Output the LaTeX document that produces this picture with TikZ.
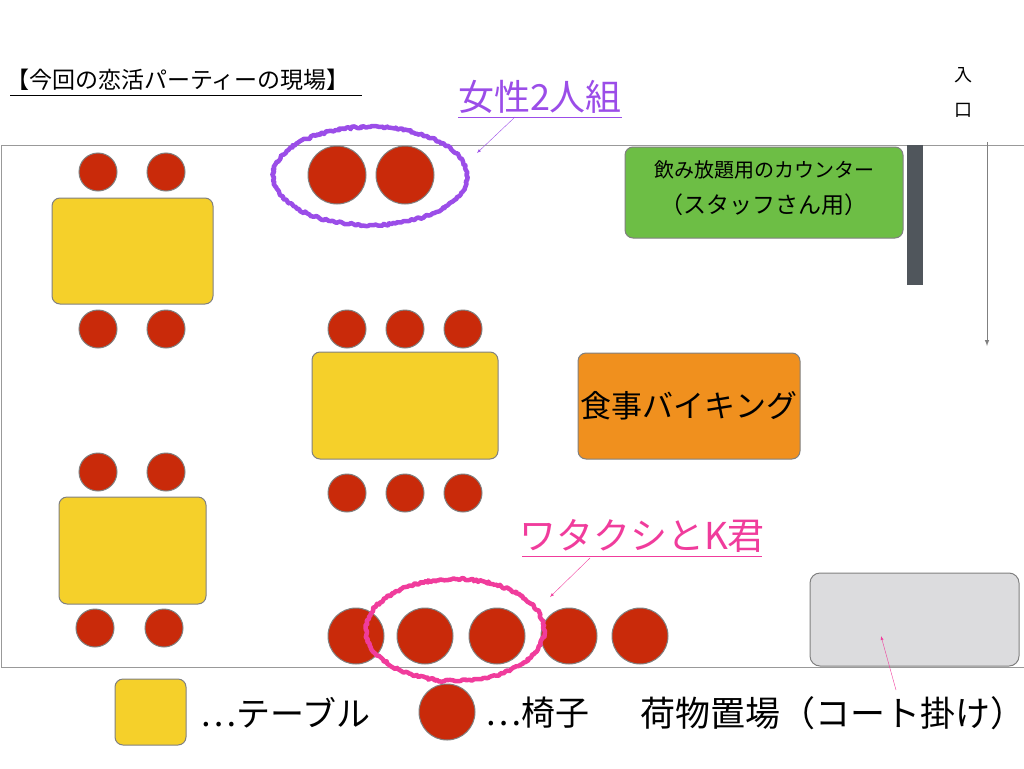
\documentclass[tikz,border=0pt]{standalone}
\usepackage{fontspec}
\setmainfont{Noto Sans CJK JP}
\usetikzlibrary{decorations.pathmorphing}
\definecolor{tableyel}{HTML}{F5D02A}
\definecolor{chairred}{HTML}{C92A0A}
\definecolor{bargray}{HTML}{50565C}
\definecolor{countergreen}{HTML}{6DBE45}
\definecolor{foodorange}{HTML}{F0901E}
\definecolor{storegray}{HTML}{DCDCDE}
\definecolor{markpurple}{HTML}{9B4DE8}
\definecolor{markpink}{HTML}{F03C9C}
\tikzset{%
    tablebox/.style={draw=gray, fill=tableyel, rounded corners=8pt, line width=1pt},
    chair/.style={draw=gray, fill=chairred, circle, line width=1pt},
    scribble/.style={
		decorate,
		decoration={random steps, segment length=2pt, amplitude=1.2pt},
		line width=4.5pt, line join=round, line cap=round
	}
}
\tikzset{wall/.style={draw=gray!80, line width=1pt}}

\begin{document}
\begin{tikzpicture}[x=1pt,y=-1pt]
		% Default action for each node
		\useasboundingbox (0,0) rectangle (1024,768);

		\node[anchor=west, inner sep=0pt, font=\fontsize{23}{25}\selectfont] (title) at (6,80) {【今回の恋活パーティーの現場】};
		\draw (10,95) -- (362,95);

		% walls
		\coordinate (wnw) at (1,145);	\coordinate (wne) at (1024,145);
		\coordinate (wsw) at (1,667);	\coordinate (wse) at (1024,667);
		\draw[wall] (wne) -- (wnw) -- (wsw) -- (wse);

		% entrance
		\node[font=\fontsize{18}{20}\selectfont] (in1) at (963,75) {入};
		\node[font=\fontsize{18}{20}\selectfont] (in2) at (963,110) {口};
		\coordinate (entA) at (987,142);	\coordinate (entB) at (987,346);
		\draw[gray, line width=1pt, ->, >=latex] (entA) -- (entB);
		\fill[bargray] (907,145) rectangle (923,285);

		% counters
		\draw[gray, fill=countergreen, rounded corners=8pt, line width=1pt] (625,147) rectangle (903,238);
		\node[font=\fontsize{20}{22}\selectfont] (counter1) at (764,170) {飲み放題用のカウンター};
		\node[font=\fontsize{23}{25}\selectfont] (counter2) at (764,205) {（スタッフさん用）};
		\draw[gray, fill=foodorange, rounded corners=8pt, line width=1pt] (578,353) rectangle (800,459);
		\node[font=\fontsize{31}{33}\selectfont] (food) at (689,406) {食事バイキング};
		\draw[gray, fill=storegray, rounded corners=10pt, line width=1pt] (810,573) rectangle (1019,666);

		% tables
		\draw[tablebox] (52,198) rectangle (213,304);
		\draw[tablebox] (312,352) rectangle (498,459);
		\draw[tablebox] (59,497) rectangle (206,604);

		% chairs
		\foreach \cx/\cy in {98/172,166/172,98/329,166/329,347/329,405/329,463/329,
			347/493,405/493,463/493,98/472,166/472,95/628,164/628}
			\node[chair, minimum size=38pt] at (\cx,\cy) {};
		\foreach \cx/\cy in {337/175,405/175}
			\node[chair, minimum size=58pt] at (\cx,\cy) {};
		\foreach \cx/\cy in {356/636,425/636,497/636,569/636,640/636}
			\node[chair, minimum size=56pt] at (\cx,\cy) {};

		% marks
		\draw[scribble, markpurple] (370,176) ellipse (97 and 49);
		\node[markpurple, font=\fontsize{36}{38}\selectfont] (women) at (540,97) {女性2人組};
		\draw[markpurple] (458,117) -- (622,117);
		\draw[markpurple, ->, >=latex] (515,117) -- (477,153);

		\draw[scribble, markpink] (455,630) ellipse (89 and 51);
		\node[markpink, font=\fontsize{37}{39}\selectfont] (us) at (642,536) {ワタクシとK君};
		\draw[markpink] (522,556) -- (762,556);
		\draw[markpink, ->, >=latex] (590,558) -- (550,597);

		\coordinate (coatA) at (896,690);	\coordinate (coatB) at (881,636);
		\draw[markpink, ->, >=latex] (coatA) -- (coatB);

		% legend
		\draw[tablebox] (115,679) rectangle (186,745);
		\node[anchor=west, inner sep=0pt, font=\fontsize{34}{36}\selectfont] (legtable) at (200,713) {…テーブル};
		\node[chair, minimum size=56pt] (legchair) at (447,712) {};
		\node[anchor=west, inner sep=0pt, font=\fontsize{34}{36}\selectfont] (legchairt) at (485,713) {…椅子};
		\node[anchor=west, inner sep=0pt, font=\fontsize{35}{37}\selectfont] (legstore) at (640,713) {荷物置場（コート掛け）};
	\end{tikzpicture}
\end{document}
